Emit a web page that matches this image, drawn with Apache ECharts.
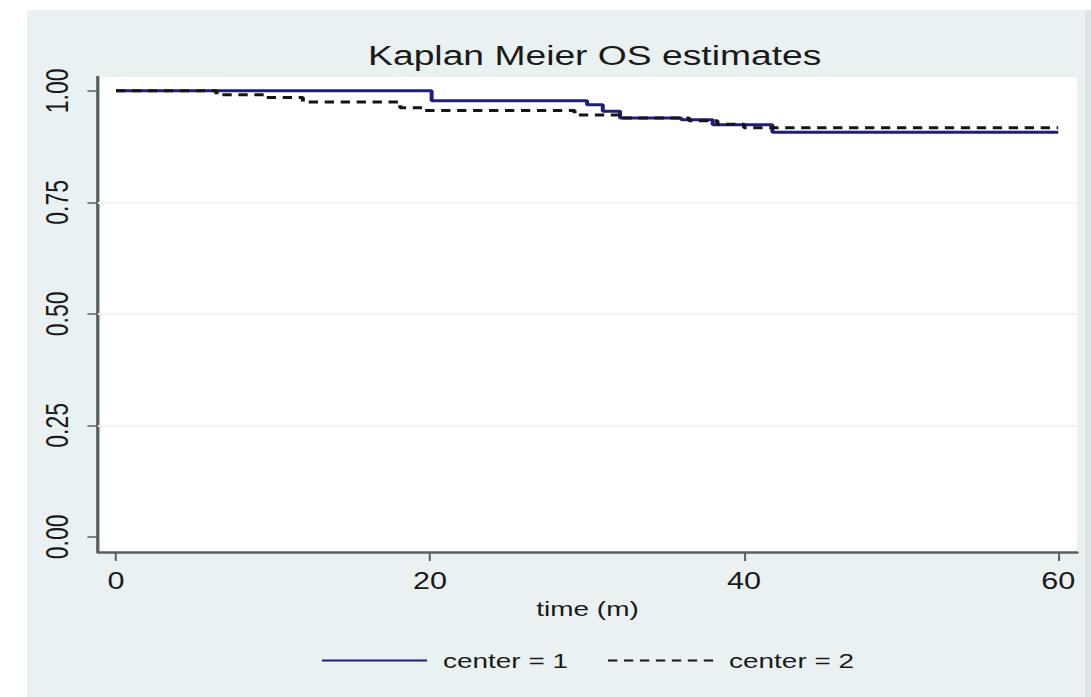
<!DOCTYPE html>
<html>
<head>
<meta charset="utf-8">
<title>Kaplan Meier OS estimates</title>
<script src="https://cdn.jsdelivr.net/npm/echarts@6/dist/echarts.min.js"></script>
<style>
  html, body { margin: 0; padding: 0; background: #ffffff; overflow: hidden; }
  #wrap { position: relative; width: 1091px; height: 697px; overflow: hidden; }
  /* the plot is laid out on a narrower canvas and widened, giving the broad lettering of the graph */
  #main { position: absolute; left: 0; top: 0; width: 820px; height: 697px;
          transform: scaleX(1.33049); transform-origin: 0 0; }
</style>
</head>
<body>
<div id="wrap"><div id="main"></div></div>
<script>
// Kaplan-Meier overall survival by treatment centre (step estimates)
const titleText = 'Kaplan Meier OS estimates';
const xAxisName = 'time (m)';
const seriesNames = ['center = 1', 'center = 2'];

// centre 1: event times (months) and survival after each step
const center1Times = [0, 20.1, 30.0, 31.0, 32.1, 36.0, 38.0, 41.8, 60.0];
const center1Surv  = [1.000, 0.978, 0.969, 0.954, 0.939, 0.935, 0.924, 0.907, 0.907];

// centre 2
const center2Times = [0, 6.4, 9.5, 11.9, 18.1, 19.5, 29.2, 32.1, 36.5, 38.3, 40.0, 60.0];
const center2Surv  = [1.000, 0.991, 0.985, 0.975, 0.962, 0.956, 0.946, 0.939, 0.933, 0.925, 0.917, 0.917];

const xTicks = [0, 20, 40, 60];
const yTicks = [0, 0.25, 0.5, 0.75, 1];
const yGrid  = [0.25, 0.5, 0.75];

const FONT = "'Liberation Sans', Arial, Helvetica, sans-serif";
const TEXT = '#1a1a1a';
const AXIS = '#5a6060';

const pairs = (xs, ys) => xs.map((x, i) => [x, ys[i]]);

const chart = echarts.init(document.getElementById('main'), null, { renderer: 'svg' });

chart.setOption({
  animation: false,
  graphic: [
    { type: 'rect', z: -20, silent: true,
      shape: { x: 20.3, y: 10, width: 795.2, height: 700 },
      style: { fill: '#e9f1f2' } },
    { type: 'rect', z: -20, silent: true,
      shape: { x: 815.5, y: 10, width: 6, height: 700 },
      style: { fill: '#dfe5e7' } }
  ],
  title: {
    text: titleText,
    left: 442, top: 36, textAlign: 'center',
    textStyle: { fontFamily: FONT, fontSize: 28, fontWeight: 'normal', color: TEXT }
  },
  legend: {
    data: seriesNames,
    left: 236, top: 645,
    itemWidth: 79, itemHeight: 14, itemGap: 29,
    itemStyle: { opacity: 0 },
    textStyle: { fontFamily: FONT, fontSize: 21, color: TEXT, padding: [0, 0, 0, 7] }
  },
  grid: {
    left: 73.66, right: 10.5, top: 77, bottom: 145,
    show: true, backgroundColor: '#ffffff', borderWidth: 0,
    containLabel: false
  },
  xAxis: {
    type: 'value', min: -1.146, max: 61.2,
    name: xAxisName, nameLocation: 'middle', nameGap: 44,
    nameTextStyle: { fontFamily: FONT, fontSize: 21, color: TEXT },
    axisLine: { show: true, onZero: false, lineStyle: { color: AXIS, width: 2.5 } },
    axisTick: { show: true, customValues: xTicks, length: 9, lineStyle: { color: AXIS, width: 1.5 } },
    axisLabel: { customValues: xTicks, margin: 18, fontFamily: FONT, fontSize: 23, color: TEXT },
    splitLine: { show: false }
  },
  yAxis: {
    type: 'value', min: -0.034, max: 1.031,
    axisLine: { show: true, onZero: false, lineStyle: { color: AXIS, width: 2.5 } },
    axisTick: { show: true, customValues: yTicks, length: 8, lineStyle: { color: AXIS, width: 1.5 } },
    axisLabel: {
      customValues: yTicks, rotate: 90, margin: 19,
      fontFamily: FONT, fontSize: 23, color: TEXT,
      formatter: v => v.toFixed(2)
    },
    splitLine: { show: false }
  },
  series: [
    {
      name: seriesNames[0], type: 'line', step: 'end', symbol: 'none',
      data: pairs(center1Times, center1Surv),
      lineStyle: { color: '#1e1e7c', width: 3 },
      itemStyle: { color: '#1e1e7c' },
      z: 3,
      markLine: {
        silent: true, symbol: 'none', label: { show: false },
        lineStyle: { color: '#f1f3f4', width: 2, type: 'solid' },
        data: yGrid.map(v => ({ yAxis: v }))
      }
    },
    {
      name: seriesNames[1], type: 'line', step: 'end', symbol: 'none',
      data: pairs(center2Times, center2Surv),
      lineStyle: { color: '#151515', width: 3, type: [7, 5] },
      itemStyle: { color: '#151515' },
      z: 4
    }
  ]
});
</script>
</body>
</html>
